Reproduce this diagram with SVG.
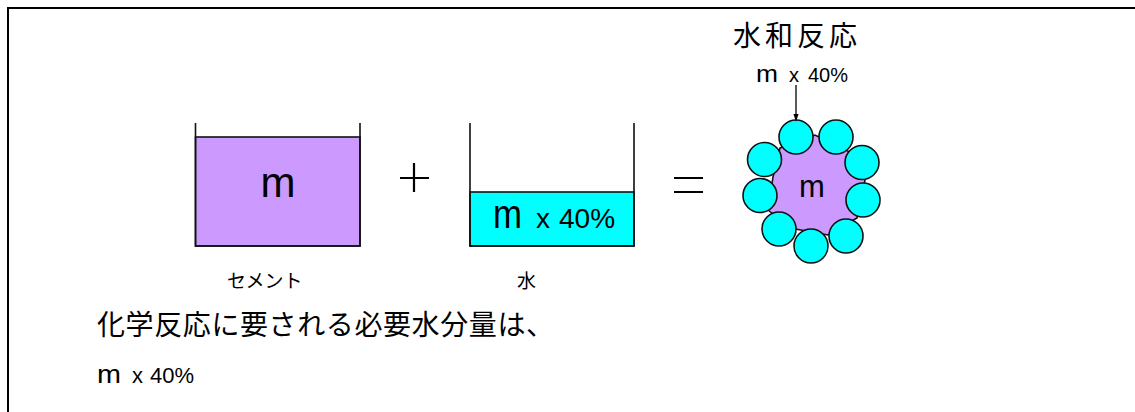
<svg xmlns="http://www.w3.org/2000/svg" width="1135" height="412" viewBox="0 0 1135 412">
<defs>
<style>
.ln{stroke:#111;stroke-width:1.6;fill:none}
.pur{fill:#CC99FF;stroke:#111;stroke-width:1.6}
.cy{fill:#00FFFF;stroke:#111;stroke-width:1.6}
.lat{font-family:"Liberation Sans",Arial,sans-serif;fill:#000}
.jp{font-family:"Noto Sans CJK JP","Noto Sans CJK SC",sans-serif;fill:#000}
.op{stroke:#000;stroke-width:2.2;fill:none}
</style>
<marker id="ah" markerWidth="8" markerHeight="12" refX="8" refY="4" orient="auto" markerUnits="userSpaceOnUse" viewBox="0 0 12 8">
<path d="M0,0 L12,4 L0,8 Z" fill="#000"/>
</marker>
</defs>
<rect x="0" y="0" width="1135" height="412" fill="#fff"/>
<rect x="8" y="8" width="1140" height="420" fill="none" stroke="#000" stroke-width="2"/>

<g id="cement">
<rect class="pur" x="195.5" y="137" width="164.5" height="109"/>
<path class="ln" d="M195.5,123 V246 H360 V123"/>
<text class="lat" x="278" y="197" font-size="42" text-anchor="middle">m</text>
<text class="jp" x="227" y="288" font-size="19">セメント</text>
</g>

<g id="plus">
<path class="op" d="M400,178 H429 M414,163 V192"/>
</g>

<g id="water">
<rect class="cy" x="470" y="192" width="164" height="54"/>
<path class="ln" d="M470,123 V246 H634 V123"/>
<text class="lat" y="228"><tspan x="493" font-size="40" textLength="29" lengthAdjust="spacingAndGlyphs">m</tspan><tspan x="536" font-size="28">x</tspan><tspan x="559" font-size="28">40%</tspan></text>
<text class="jp" x="517" y="288" font-size="19">水</text>
</g>

<g id="equals">
<path class="op" d="M674,178 H703 M674,192 H703"/>
</g>

<g id="hydrate">
<polygon class="pur" points="780,148 815,135 852,153 865,180 857,218 828,235 790,228 768,210 773,177"/>
<circle class="cy" cx="796" cy="137" r="17"/>
<circle class="cy" cx="836" cy="137" r="17"/>
<circle class="cy" cx="862" cy="162.5" r="17"/>
<circle class="cy" cx="863" cy="200" r="17"/>
<circle class="cy" cx="846" cy="236" r="17"/>
<circle class="cy" cx="811" cy="246" r="17"/>
<circle class="cy" cx="779" cy="229" r="17"/>
<circle class="cy" cx="760" cy="195.5" r="17"/>
<circle class="cy" cx="764.5" cy="159.5" r="17"/>
<text class="lat" x="812" y="197" font-size="31" text-anchor="middle">m</text>
</g>

<g id="hydration-label">
<text class="jp" x="733" y="46" font-size="28" letter-spacing="4">水和反応</text>
<text class="lat" y="82"><tspan x="756" font-size="23" textLength="22" lengthAdjust="spacingAndGlyphs">m</tspan><tspan x="789" font-size="20">x</tspan><tspan x="808" font-size="20">40%</tspan></text>
</g>

<g id="connectors">
<line x1="796" y1="85" x2="796" y2="119" stroke="#000" stroke-width="1.3" marker-end="url(#ah)"/>
</g>

<g id="note">
<text class="jp" x="97" y="335" font-size="28" letter-spacing="0.6">化学反応に要される必要水分量は、</text>
<text class="lat" y="383"><tspan x="97" font-size="25" textLength="24" lengthAdjust="spacingAndGlyphs">m</tspan><tspan x="132" font-size="22">x</tspan><tspan x="150" font-size="22">40%</tspan></text>
</g>
</svg>
